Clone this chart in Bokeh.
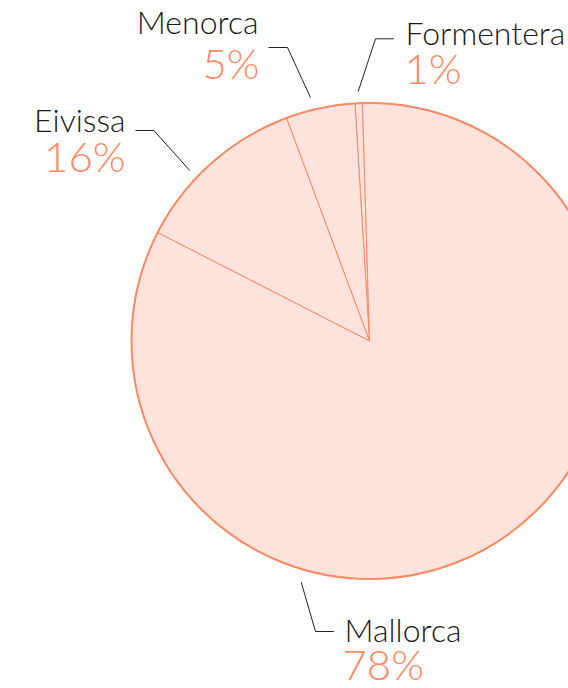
import math
from bokeh.plotting import figure
from bokeh.models import ColumnDataSource, Range1d
from bokeh.core.properties import value
from bokeh.embed import file_html
from bokeh.resources import INLINE

# ---- data (slice order counter-clockwise from the top) ----
islands = ["Formentera", "Menorca", "Eivissa", "Mallorca"]
shares = [0.5, 4.7, 11.8, 83.0]          # slice sizes as drawn
share_labels = ["1%", "5%", "16%", "78%"]  # printed labels

# ---- layout / style ----
W, H = 568, 688
FILL = "#FFE3DC"
STROKE = "#FF8A66"
PCT = "#FF8A66"
FONT = "Lato Light, Lato"
NAME_SIZE, PCT_SIZE = 32, 42
NAME_SHIFT, PCT_SHIFT = 12, 16   # baseline correction (px)

def sy(y):  # screen y (px from top) -> data y
    return H - y

cx, cy, R = 369, sy(340.5), 238
start_deg = 91.7

p = figure(width=W, height=H, output_backend="svg", toolbar_location=None,
           x_range=Range1d(0, W), y_range=Range1d(0, H),
           min_border=0, outline_line_color=None)
p.axis.visible = False
p.grid.visible = False
p.background_fill_color = "white"
p.border_fill_color = "white"

total = sum(shares)
starts, ends = [], []
a = math.radians(start_deg)
for s in shares:
    starts.append(a)
    a += 2 * math.pi * s / total
    ends.append(a)

src = ColumnDataSource(dict(name=islands, start=starts, end=ends))
p.wedge(x=cx, y=cy, radius=R, start_angle="start", end_angle="end",
        source=src, fill_color=FILL, line_color=STROKE, line_width=1)
p.circle(x=[cx], y=[cy], radius=R, fill_color=None, line_color=STROKE, line_width=2)

# label layout (screen px): name anchor, pct anchor, alignment, leader line
lab_x = {"Formentera": 405, "Menorca": 258, "Eivissa": 125, "Mallorca": 344}
name_y = {"Formentera": 44, "Menorca": 33, "Eivissa": 131, "Mallorca": 641}
pct_x = {"Formentera": 404, "Menorca": 259, "Eivissa": 125, "Mallorca": 342}
pct_y = {"Formentera": 83, "Menorca": 78, "Eivissa": 171, "Mallorca": 679}
align = {"Formentera": "left", "Menorca": "right", "Eivissa": "right", "Mallorca": "left"}
leaders = {
    "Formentera": [(357.7, 91), (375, 38.3), (393.3, 38.3)],
    "Menorca": [(310, 97), (287, 47), (268, 47)],
    "Eivissa": [(189.3, 170), (153.3, 130), (135, 130)],
    "Mallorca": [(300.7, 581.7), (315, 631), (333.3, 631)],
}

p.multi_line(xs=[[pt[0] for pt in leaders[n]] for n in islands],
             ys=[[sy(pt[1]) for pt in leaders[n]] for n in islands],
             line_color="#222222", line_width=1)

for n, lab in zip(islands, share_labels):
    p.text(x=[lab_x[n]], y=[sy(name_y[n] - NAME_SHIFT)], text=[n], text_align=align[n],
           text_baseline="alphabetic", text_font=value(FONT),
           text_font_size=f"{NAME_SIZE}px", text_color="#1a1a1a")
    p.text(x=[pct_x[n]], y=[sy(pct_y[n] - PCT_SHIFT)], text=[lab], text_align=align[n],
           text_baseline="alphabetic", text_font=value(FONT),
           text_font_size=f"{PCT_SIZE}px", text_color=PCT)

open("out.html", "w").write(file_html(p, INLINE))
